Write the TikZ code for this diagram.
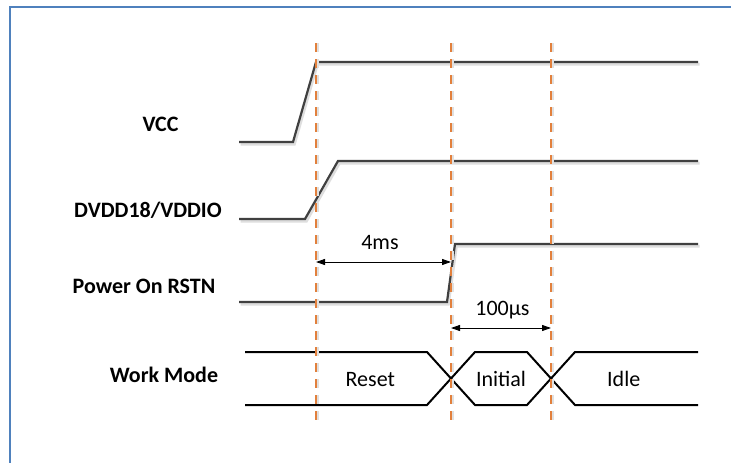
\documentclass[tikz,border=0pt]{standalone}
\usepackage{fontspec}
\setmainfont{Carlito}
\usetikzlibrary{arrows.meta}
\definecolor{framecol}{RGB}{79,129,189}
\definecolor{sigcol}{RGB}{64,64,64}
\definecolor{markcol}{RGB}{226,128,60}
\tikzset{
  sig/.style={draw=sigcol, line width=2.2pt, line join=miter,
    preaction={draw=black!13, line width=2.6pt, transform canvas={shift={(1.5pt,-2.2pt)}}}},
  mode/.style={draw=black, line width=2pt},
  marker/.style={draw=markcol, line width=1.3pt, dash pattern=on 9pt off 7pt,
    preaction={draw=black!12, line width=1.6pt, dash pattern=on 9pt off 7pt, transform canvas={shift={(2.2pt,0pt)}}}},
  dim/.style={draw=black, line width=0.9pt, {Triangle[length=9pt,width=6pt]}-{Triangle[length=9pt,width=6pt]}},
  signame/.style={font=\bfseries\fontsize{22}{26}\selectfont, anchor=base, inner sep=0pt},
  txt/.style={font=\fontsize{22}{26}\selectfont, anchor=base, inner sep=0pt},
}
\begin{document}
\begin{tikzpicture}[x=1pt,y=-1pt]
\useasboundingbox (0,0) rectangle (731,463);
\fill[white] (0,0) rectangle (731,463);
\draw[framecol, line width=2.2pt] (10,470) -- (10,7) -- (740,7);

% marker coordinates
\coordinate (m1t) at (316,43); \coordinate (m1b) at (316,425);
\coordinate (m2t) at (451,43); \coordinate (m2b) at (451,425);
\coordinate (m3t) at (551,43); \coordinate (m3b) at (551,425);

% signals
\draw[sig] (239,142) -- (293,142) -- (316,62) -- (698,62);
\draw[sig] (239,219) -- (305,219) -- (338,161) -- (698,161);
\draw[sig] (239,302) -- (447,302) -- (455,244) -- (698,244);

% work mode bus
\draw[mode] (245,352) -- (427,352) -- (475,405) -- (527,405) -- (575,352) -- (698,352);
\draw[mode] (245,405) -- (427,405) -- (475,352) -- (527,352) -- (575,405) -- (698,405);

% markers
\draw[marker] (m1t) -- (m1b);
\draw[marker] (m2t) -- (m2b);
\draw[marker] (m3t) -- (m3b);

% dimensions
\coordinate (d1a) at (316,262); \coordinate (d1b) at (451,262);
\coordinate (d2a) at (451,328); \coordinate (d2b) at (551,328);
\draw[dim] (d1a) -- (d1b);
\draw[dim] (d2a) -- (d2b);
\node[txt] (t4ms) at (380,249) {4ms};
\node[txt] (t100) at (502.5,315.7) {100µs};

% signal names
\node[signame] (nvcc) at (160.5,131) {VCC};
\node[signame] (ndvdd) at (148,217.7) {DVDD18/VDDIO};
\node[signame] (nrstn) at (144,293) {Power On RSTN};
\node[signame] (nwork) at (164,382) {Work Mode};

% states
\node[txt] (sreset) at (370.3,386) {Reset};
\node[txt] (sinit) at (501,386) {Initial};
\node[txt] (sidle) at (623.7,386) {Idle};
\end{tikzpicture}
\end{document}
